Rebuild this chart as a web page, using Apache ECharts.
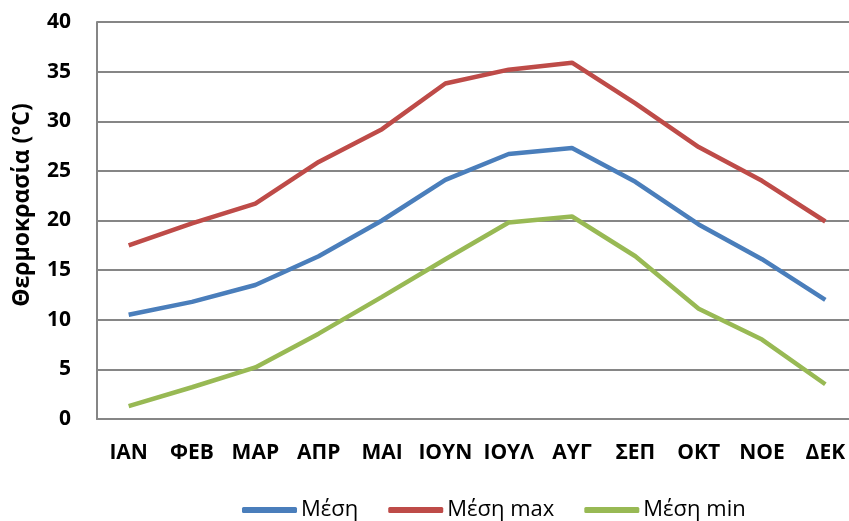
<!DOCTYPE html>
<html><head><meta charset="utf-8">
<script src="https://cdn.jsdelivr.net/npm/echarts@6/dist/echarts.min.js"></script>
<style>html,body{margin:0;padding:0;background:#fff}#c{width:849px;height:521px}</style>
</head><body><div id="c"></div>
<script>
const months = ['ΙΑΝ','ΦΕΒ','ΜΑΡ','ΑΠΡ','ΜΑΙ','ΙΟΥΝ','ΙΟΥΛ','ΑΥΓ','ΣΕΠ','ΟΚΤ','ΝΟΕ','ΔΕΚ'];
const meanT = [10.5, 11.8, 13.5, 16.4, 20.0, 24.1, 26.7, 27.3, 23.9, 19.6, 16.1, 12.0];
const maxT  = [17.5, 19.7, 21.7, 25.9, 29.2, 33.8, 35.2, 35.9, 31.8, 27.4, 24.0, 19.9];
const minT  = [1.3, 3.2, 5.2, 8.6, 12.3, 16.1, 19.8, 20.4, 16.4, 11.1, 8.0, 3.5];
const seriesNames = ['Μέση','Μέση max','Μέση min'];
const yTitle = 'Θερμοκρασία (°C)';
const colors = ['#4A7EBB','#BE4B48','#98B954'];
const F = 'Open Sans';
const chart = echarts.init(document.getElementById('c'));
chart.setOption({
  animation:false,
  color: colors,
  textStyle:{fontFamily:F},
  grid:{left:97, top:22, width:760, height:397, outerBoundsMode:'none', containLabel:false},
  legend:{
    bottom:0, left:242, padding:0,
    icon:'roundRect', itemWidth:55, itemHeight:6, itemGap:30,
    textStyle:{fontFamily:F, fontSize:22, color:'#000', padding:[0,0,0,-1]},
    data: seriesNames
  },
  graphic:[{
    type:'text', x:22, y:205, rotation:Math.PI/2,
    style:{text:yTitle, fill:'#000', font:'bold 23px "Open Sans"', align:'center', verticalAlign:'middle'}
  }],
  xAxis:{
    type:'category', data:months, boundaryGap:true,
    axisLine:{lineStyle:{color:'#868686', width:2}},
    axisTick:{show:false},
    axisLabel:{interval:0, color:'#000', fontWeight:'bold', fontSize:21, margin:24, fontFamily:F}
  },
  yAxis:{
    type:'value', min:0, max:40, interval:5,
    axisLine:{show:true, lineStyle:{color:'#868686', width:2}},
    axisTick:{show:false},
    splitLine:{lineStyle:{color:'#868686', width:2}},
    axisLabel:{color:'#000', fontWeight:'bold', fontSize:21, margin:26, fontFamily:F}
  },
  series:[
    {name:seriesNames[0], type:'line', data:meanT, symbol:'none', lineStyle:{width:4.5}},
    {name:seriesNames[1], type:'line', data:maxT, symbol:'none', lineStyle:{width:4.5}},
    {name:seriesNames[2], type:'line', data:minT, symbol:'none', lineStyle:{width:4.5}}
  ]
});
</script></body></html>
